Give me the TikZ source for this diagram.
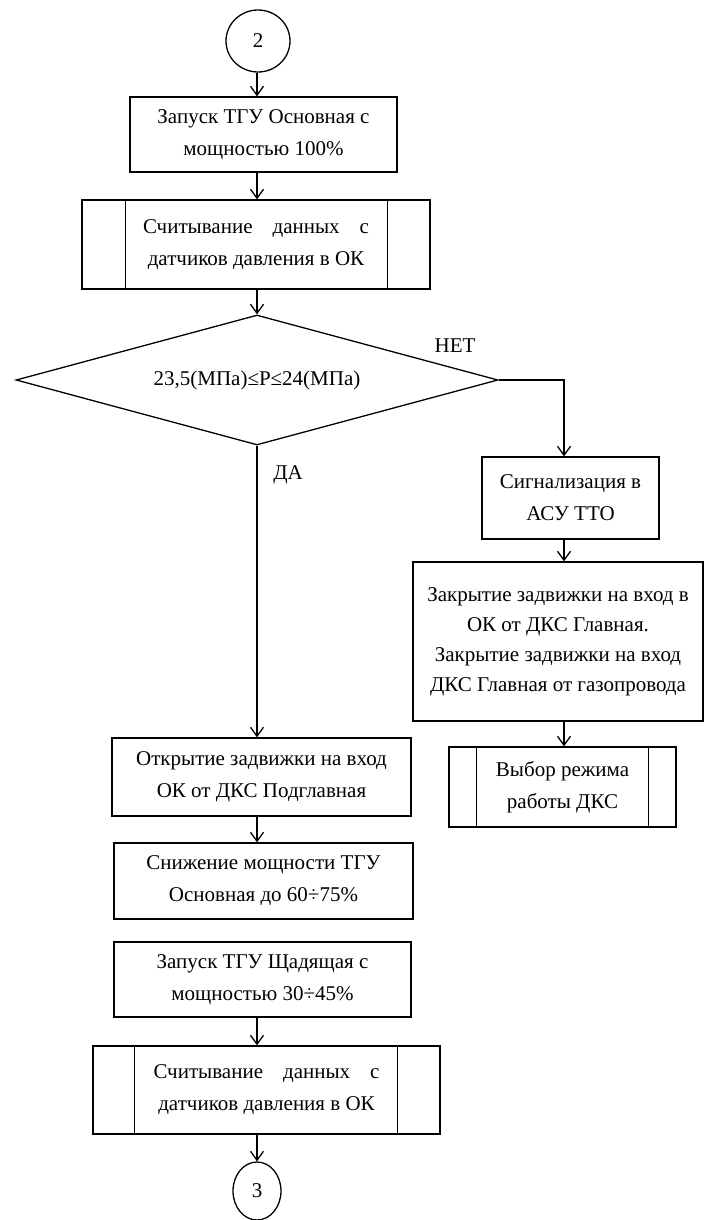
\documentclass[tikz,border=0pt]{standalone}
\usepackage{fontspec}
\setmainfont{Liberation Serif}
\usetikzlibrary{arrows.meta,shapes.geometric}
\begin{document}
\begin{tikzpicture}[x=1pt,y=-1pt,
  every node/.style={font=\fontsize{21}{32}\selectfont, inner sep=0pt},
  proc/.style={draw, line width=1.3pt, align=center},
  conn/.style={draw, ellipse, line width=1.3pt},
  decision/.style={draw, diamond, shape aspect=3.7, line width=1.3pt},
  sideline/.style={line width=1.3pt},
  flow/.style={line width=1.3pt, -{Straight Barb[length=9pt,width=13pt,line width=1.3pt]}},
  lbl/.style={}
]
\useasboundingbox (0,0) rectangle (705,1220);
\fill[white] (0,0) rectangle (705,1220);

% column guides
\coordinate (ax) at (257,0);
\coordinate (nx) at (564,0);

% main column
\node[conn, minimum width=64, minimum height=62] (c2) at (258,41) {2};
\node[proc, minimum width=267, minimum height=75] (b1) at (263.5,134.5)
  {Запуск ТГУ Основная с\\мощностью 100\%};
\node[proc, minimum width=348, minimum height=89] (b2) at (256,244.5)
  {\makebox[226pt][s]{Считывание данных с}\\датчиков давления в ОК};
\draw[sideline] ([xshift=44]b2.north west) -- ([xshift=44]b2.south west);
\draw[sideline] ([xshift=-43]b2.north east) -- ([xshift=-43]b2.south east);

\node[decision, minimum width=482, minimum height=130] (d) at (257,380)
  {23,5(МПа)≤P≤24(МПа)};

\node[lbl] (no) at (455,346) {НЕТ};
\node[lbl] (yes) at (288,475) {ДА};

% NO branch
\node[proc, minimum width=177, minimum height=82] (sig) at (570.5,498)
  {Сигнализация в\\АСУ ТТО};
\node[proc, minimum width=290, minimum height=159,
  font=\fontsize{21}{30}\selectfont] (cls) at (558,641.5)
  {Закрытие задвижки на вход в\\ОК от ДКС Главная.\\Закрытие задвижки на вход\\ДКС Главная от газопровода};
\node[proc, minimum width=227, minimum height=80] (ch) at (562.5,787)
  {Выбор режима\\работы ДКС};
\draw[sideline] ([xshift=28]ch.north west) -- ([xshift=28]ch.south west);
\draw[sideline] ([xshift=-28]ch.north east) -- ([xshift=-28]ch.south east);

% YES branch
\node[proc, minimum width=299, minimum height=78] (o1) at (261.5,777)
  {Открытие задвижки на вход\\ОК от ДКС Подглавная};
\node[proc, minimum width=299, minimum height=76] (o2) at (263.5,881)
  {Снижение мощности ТГУ\\Основная до 60÷75\%};
\node[proc, minimum width=297, minimum height=75] (o3) at (262.5,979.5)
  {Запуск ТГУ Щадящая с\\мощностью 30÷45\%};
\node[proc, minimum width=347, minimum height=88] (o4) at (266.5,1090)
  {\makebox[226pt][s]{Считывание данных с}\\датчиков давления в ОК};
\draw[sideline] ([xshift=42]o4.north west) -- ([xshift=42]o4.south west);
\draw[sideline] ([xshift=-43]o4.north east) -- ([xshift=-43]o4.south east);
\node[conn, minimum width=48, minimum height=58] (c3) at (257,1191) {3};

% connectors
\draw[flow] (c2.south -| ax) -- (b1.north -| ax);
\draw[flow] (b1.south -| ax) -- (b2.north -| ax);
\draw[flow] (b2.south -| ax) -- (d.north);
\draw[flow] (d.east) -| (sig.north -| nx);
\draw[flow] (sig.south -| nx) -- (cls.north -| nx);
\draw[flow] (cls.south -| nx) -- (ch.north -| nx);
\draw[flow] (d.south) -- (o1.north -| ax);
\draw[flow] (o1.south -| ax) -- (o2.north -| ax);
\draw[flow] (o3.south -| ax) -- (o4.north -| ax);
\draw[flow] (o4.south -| ax) -- (c3.north);
\end{tikzpicture}
\end{document}
